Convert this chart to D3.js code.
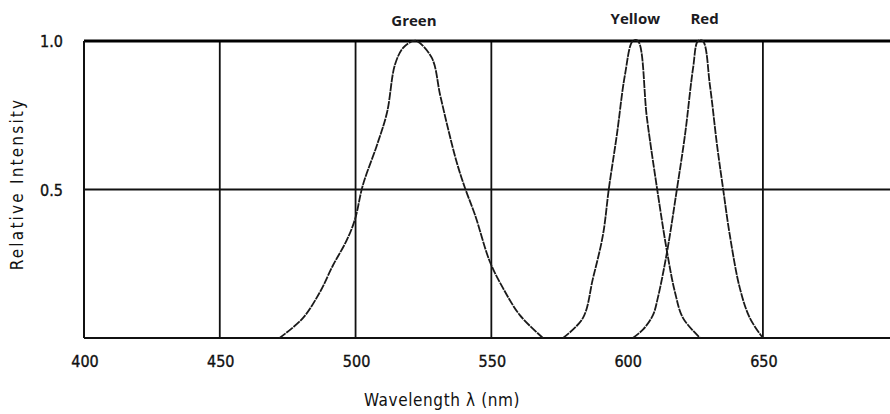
<!DOCTYPE html>
<html>
<head>
<meta charset="utf-8">
<script src="https://cdn.jsdelivr.net/npm/d3@7"></script>
<style>
  html, body { margin: 0; padding: 0; background: #fff; }
  svg { display: block; }
  .tick-label { font-family: "DejaVu Sans Condensed", "Liberation Sans", sans-serif; font-size: 16px; fill: #111; stroke: #111; stroke-width: 0.35px; }
  .series-label { font-family: "Open Sans", "Noto Sans", sans-serif; font-weight: bold; font-size: 15px; fill: #1b1b22; }
  .axis-title { font-family: "DejaVu Sans Condensed", "Liberation Sans", sans-serif; font-size: 17px; fill: #111; }
</style>
</head>
<body>
<div id="chart"></div>
<script>
// wavelength ticks (nm) and relative intensity ticks
const xTicks = [400, 450, 500, 550, 600, 650];
const xGrid = [450, 500, 550, 650];
const yTicks = [0.5, 1.0];
const yTickLabels = ['0.5', '1.0'];

// spectra: [wavelength, relative intensity]
const green = [
  [472, 0], [480.6, 0.067], [486.9, 0.155], [491.7, 0.245], [496.8, 0.33],
  [499.8, 0.40], [502.7, 0.515], [507.9, 0.65], [511.6, 0.76], [514.5, 0.92],
  [517.5, 0.977], [521.1, 1.0], [522.6, 1.0], [528.1, 0.943], [531.1, 0.82],
  [534, 0.707], [537.3, 0.59], [540.3, 0.505], [544, 0.414], [549.5, 0.256],
  [554.3, 0.168], [560.5, 0.077], [569, 0]
];
const yellow = [
  [576.4, 0], [583.7, 0.067], [587.4, 0.2], [591.1, 0.347], [593.3, 0.505],
  [596.2, 0.683], [599.2, 0.886], [602.1, 1.0], [604, 1.0], [607.3, 0.74],
  [611, 0.505], [614.7, 0.29], [617.6, 0.155], [620.6, 0.067], [626.9, 0]
];
const red = [
  [602.1, 0], [606, 0.03], [609.5, 0.077], [611.3, 0.135], [614.7, 0.29],
  [618.4, 0.505], [621.3, 0.683], [624.3, 0.91], [626.1, 1.0], [627.9, 1.0],
  [630.5, 0.85], [633.1, 0.65], [635.3, 0.505], [637.8, 0.347], [641.5, 0.168],
  [645.2, 0.067], [650, 0]
];
const seriesNames = ['Green', 'Yellow', 'Red'];
const seriesData = [green, yellow, red];
const labelAt = [[521.5, 1.0], [603, 1.0], [628.5, 1.0]];

const width = 890, height = 414;
const x = d3.scaleLinear().domain([400, 696.8]).range([84, 890]);
const y = d3.scaleLinear().domain([0, 1]).range([338, 41]);

const svg = d3.select('#chart').append('svg')
  .attr('width', width)
  .attr('height', height);

// grid
svg.selectAll('.vgrid')
  .data(xGrid)
  .enter()
  .append('line')
  .attr('x1', (d) => x(d)).attr('x2', (d) => x(d))
  .attr('y1', y(1)).attr('y2', y(0))
  .attr('stroke', '#111').attr('stroke-width', 1.8);

svg.append('line')
  .attr('x1', x(400)).attr('x2', width)
  .attr('y1', y(0.5)).attr('y2', y(0.5))
  .attr('stroke', '#111').attr('stroke-width', 1.8);

// frame
svg.append('line')
  .attr('x1', x(400)).attr('x2', width)
  .attr('y1', y(1)).attr('y2', y(1))
  .attr('stroke', '#000').attr('stroke-width', 3.2);
svg.append('line')
  .attr('x1', x(400)).attr('x2', width)
  .attr('y1', y(0)).attr('y2', y(0))
  .attr('stroke', '#111').attr('stroke-width', 2);
svg.append('line')
  .attr('x1', x(400)).attr('x2', x(400))
  .attr('y1', y(1)).attr('y2', y(0))
  .attr('stroke', '#111').attr('stroke-width', 2);

// curves
const line = d3.line()
  .x((d) => x(d[0]))
  .y((d) => y(d[1]))
  .curve(d3.curveCatmullRom.alpha(0.5));

svg.selectAll('.spectrum')
  .data(seriesData)
  .enter()
  .append('path')
  .attr('class', 'spectrum')
  .attr('d', line)
  .attr('fill', 'none')
  .attr('stroke', '#1a1a1a')
  .attr('stroke-width', 1.8)
  .attr('stroke-dasharray', '8,0.9');

// series labels
svg.selectAll('.series-label')
  .data(seriesNames)
  .enter()
  .append('text')
  .attr('class', 'series-label')
  .attr('x', (d, i) => x(labelAt[i][0]))
  .attr('y', (d, i) => (i === 0 ? 26 : 24))
  .attr('text-anchor', 'middle')
  .text((d) => d);

// x tick labels
svg.selectAll('.xlabel')
  .data(xTicks)
  .enter()
  .append('text')
  .attr('class', 'tick-label')
  .attr('x', (d) => x(d) + 1)
  .attr('y', 367)
  .attr('text-anchor', 'middle')
  .text((d) => d);

// y tick labels
svg.selectAll('.ylabel')
  .data(yTicks)
  .enter()
  .append('text')
  .attr('class', 'tick-label')
  .attr('x', 63)
  .attr('y', (d) => y(d) + 6)
  .attr('text-anchor', 'end')
  .text((d, i) => yTickLabels[i]);

// axis titles
svg.append('text')
  .attr('class', 'axis-title')
  .attr('x', 442)
  .attr('y', 406)
  .attr('text-anchor', 'middle')
  .style('letter-spacing', '0.6px')
  .text('Wavelength \u03bb (nm)');

svg.append('text')
  .attr('class', 'axis-title')
  .attr('transform', 'translate(23,184) rotate(-90)')
  .attr('text-anchor', 'middle')
  .style('letter-spacing', '2.2px')
  .text('Relative Intensity');
</script>
</body>
</html>
